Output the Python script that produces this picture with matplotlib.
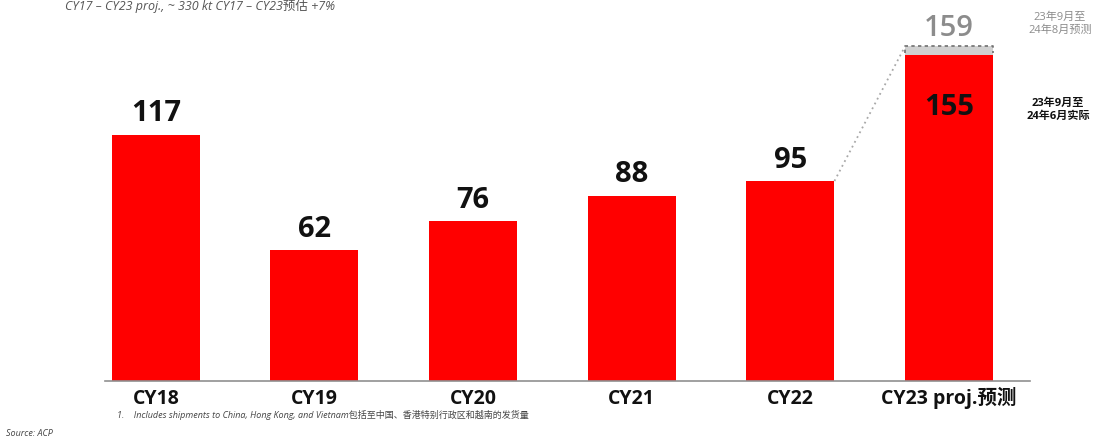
import matplotlib
matplotlib.use('Agg')
import matplotlib.pyplot as plt

plt.rcParams['font.family'] = ['Open Sans', 'Noto Sans CJK SC', 'DejaVu Sans']

# Dane
categories = ['CY18', 'CY19', 'CY20', 'CY21', 'CY22', 'CY23 proj.预测']
actual = [117, 62, 76, 88, 95, 155]
forecast_total = 159

RED = '#ff0000'
GREY = '#d0d0d0'

fig = plt.figure(figsize=(10.96, 4.41), dpi=100)
ax = fig.add_axes([105/1096, 60/441, 925/1096, 381/441])

x = list(range(len(categories)))
bars = ax.bar(x, actual, width=0.555, color=RED, zorder=2)

# szary segment prognozy na ostatnim slupku
last = x[-1]
ax.bar(last, forecast_total - actual[-1], bottom=actual[-1], width=0.555,
       color=GREY, zorder=2)
hw = 0.555 / 2
ax.plot([last - hw, last - hw, last + hw, last + hw],
        [actual[-1] + 1, forecast_total, forecast_total, actual[-1] + 1],
        ls=(0, (2, 2)), color='#707070', lw=1.2, zorder=3)

# linia kropkowana od CY22 do CY23
ax.plot([x[-2] + hw, last - hw], [actual[-2], forecast_total],
        ls=(0, (1, 2)), color='#a8a8a8', lw=1.3, zorder=1)

# etykiety wartosci
for xi, v in zip(x[:-1], actual[:-1]):
    ax.text(xi, v + 3, str(v), ha='center', va='bottom', fontsize=21,
            fontweight='bold', color='#111111')
ax.text(last, actual[-1] - 25, str(actual[-1]), ha='center', va='center',
        fontsize=21, fontweight='bold', color='#111111', zorder=4)
ax.text(last, forecast_total + 1.5, str(forecast_total), ha='center',
        va='bottom', fontsize=21, fontweight='semibold', color='#8c8c8c')

ax.set_xlim(-0.32, 5.51)
ax.set_ylim(0, 181)
ax.set_xticks(x)
ax.set_xticklabels(categories, fontsize=14, fontweight='bold', color='#111111',
                   va='baseline')
ax.tick_params(axis='x', length=0, pad=16.5)
ax.set_yticks([])
for s in ['top', 'right', 'left']:
    ax.spines[s].set_visible(False)
ax.spines['bottom'].set_color('#909090')
ax.spines['bottom'].set_linewidth(1.2)

# adnotacje po prawej
fig.text(1060/1096, 1 - 24/441, '23年9月至\n24年8月预测', ha='center', va='center',
         fontsize=8, color='#8c8c8c', linespacing=1.2)
fig.text(1058/1096, 1 - 110/441, '23年9月至\n24年6月实际', ha='center', va='center',
         fontsize=8, color='#111111', fontweight='bold', linespacing=1.2)

# tytul (u gory)
fig.text(65/1096, 1 - 6/441, 'CY17 – CY23 proj., ~ 330 kt CY17 – CY23预估 +7%',
         ha='left', va='center', fontsize=9, style='italic', color='#555555')

# przypisy
fig.text(117/1096, 1 - 415/441,
         '1.    Includes shipments to China, Hong Kong, and Vietnam包括至中国、香港特别行政区和越南的发货量',
         ha='left', va='center', fontsize=6.5, style='italic', color='#444444')
fig.text(6/1096, 1 - 434/441, 'Source: ACP', ha='left', va='center',
         fontsize=6.5, style='italic', color='#444444')

fig.savefig('out.png', dpi=100)
